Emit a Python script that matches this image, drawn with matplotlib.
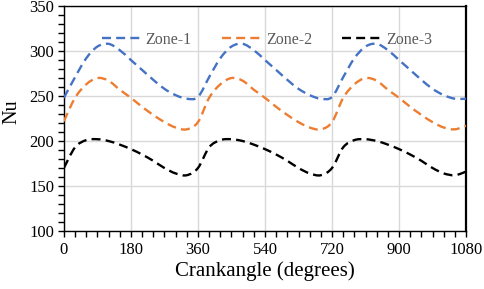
import numpy as np
import matplotlib
matplotlib.use("Agg")
import matplotlib.pyplot as plt
from matplotlib.path import Path
from matplotlib.patches import PathPatch
from matplotlib.lines import Line2D
from matplotlib.ticker import MultipleLocator

crank = list(range(0, 1081, 30))
zone1 = [248, 271, 292, 305, 308, 301, 290, 279, 268, 258, 251, 247, 249,
         271, 292, 305, 308, 301, 290, 279, 268, 258, 251, 247, 249,
         271, 292, 305, 308, 301, 290, 279, 268, 258, 251, 247, 247]
zone2 = [222, 248, 263, 270, 267, 257, 248, 238, 229, 221, 215, 213, 221,
         248, 263, 270, 267, 257, 248, 238, 229, 221, 215, 213, 221,
         248, 263, 270, 267, 257, 248, 238, 229, 221, 215, 213, 217]
zone3 = [170, 193, 201, 202, 200, 196, 191, 185, 178, 170, 164, 162, 170,
         193, 201, 202, 200, 196, 191, 185, 178, 170, 164, 162, 170,
         193, 201, 202, 200, 196, 191, 185, 178, 170, 164, 162, 166]
names = ["Zone-1", "Zone-2", "Zone-3"]
colors = ["#4472C4", "#ED7D31", "#000000"]
xticks = [0, 180, 360, 540, 720, 900, 1080]

plt.rcParams['font.family'] = ['Liberation Serif', 'DejaVu Serif']

fig = plt.figure(figsize=(4.84, 2.89), dpi=100)
ax = fig.add_axes([0.132, 0.2007, 0.831, 0.7783])

dash = (0, (3.8, 2.2))
lw = 1.7

def smooth_path(x, y, t=0.5):
    x = np.asarray(x, float); y = np.asarray(y, float)
    n = len(x)
    verts = [(x[0], y[0])]
    codes = [Path.MOVETO]
    for i in range(n - 1):
        p0 = (x[max(i - 1, 0)], y[max(i - 1, 0)])
        p1 = (x[i], y[i]); p2 = (x[i + 1], y[i + 1])
        p3 = (x[min(i + 2, n - 1)], y[min(i + 2, n - 1)])
        c1 = (p1[0] + (p2[0] - p0[0]) * t / 3, p1[1] + (p2[1] - p0[1]) * t / 3)
        c2 = (p2[0] - (p3[0] - p1[0]) * t / 3, p2[1] - (p3[1] - p1[1]) * t / 3)
        verts += [c1, c2, p2]
        codes += [Path.CURVE4] * 3
    return Path(verts, codes)

handles = []
for ys, c, nm in zip([zone1, zone2, zone3], colors, names):
    patch = PathPatch(smooth_path(crank, ys, t=0.5), fill=False, edgecolor=c,
                      lw=lw, linestyle=dash, zorder=3, capstyle='butt')
    ax.add_patch(patch)
    handles.append(Line2D([], [], color=c, lw=lw, linestyle=dash, label=nm))

ax.set_xlim(0, 1080)
ax.set_ylim(100, 350)
ax.set_xticks(xticks)
ax.xaxis.set_minor_locator(MultipleLocator(30))
ax.yaxis.set_major_locator(MultipleLocator(50))
ax.yaxis.set_minor_locator(MultipleLocator(10))
ax.grid(True, which='major', color='#D9D9D9', lw=1.0, zorder=0)
ax.set_axisbelow(True)
ax.tick_params(which='both', direction='out', length=4, width=1, colors='black',
               labelsize=12)
ax.tick_params(axis='x', pad=4)
ax.tick_params(axis='y', pad=3)
for s in ax.spines.values():
    s.set_color('black'); s.set_linewidth(1.0)
ax.spines['right'].set_linewidth(1.6)

ax.set_xlabel("Crankangle (degrees)", fontsize=15, labelpad=2)
ax.set_ylabel("Nu", fontsize=14.5)
ax.yaxis.set_label_coords(-0.105, 0.53)

leg = ax.legend(handles=handles, ncol=3, loc='center', bbox_to_anchor=(0.505, 0.849),
                frameon=False, fontsize=11.5, handlelength=2.5, handletextpad=0.25,
                columnspacing=1.9)
for t in leg.get_texts():
    t.set_color('#595959')

fig.savefig("out.png", dpi=100)
